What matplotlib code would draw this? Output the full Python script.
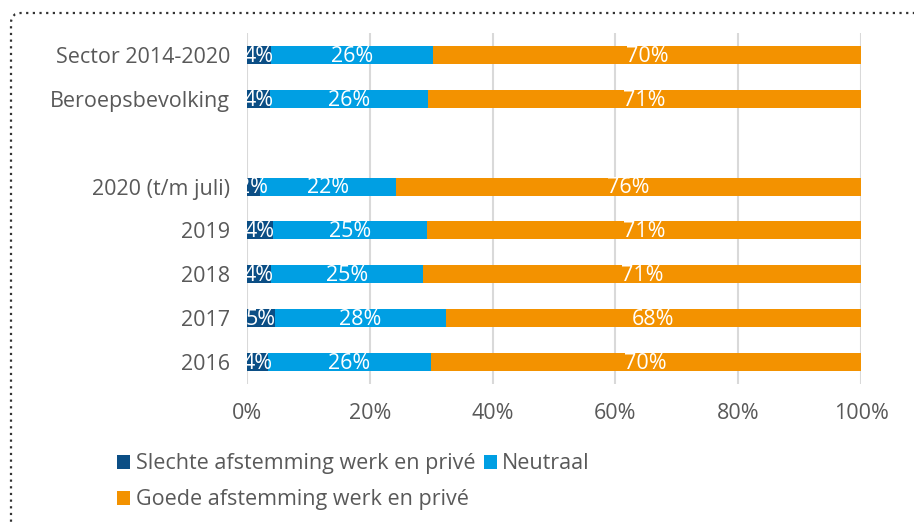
import matplotlib.pyplot as plt
from matplotlib.patches import FancyBboxPatch
from matplotlib.transforms import IdentityTransform
import numpy as np

plt.rcParams['font.family'] = ['Open Sans', 'DejaVu Sans']

categories = ['Sector 2014-2020', 'Beroepsbevolking', '', '2020 (t/m juli)',
              '2019', '2018', '2017', '2016']
slecht = [3.9, 3.8, np.nan, 2.1, 4.2, 3.9, 4.6, 3.5]
neutraal = [26.4, 25.6, np.nan, 22.2, 25.1, 24.8, 27.8, 26.4]
goed = [69.7, 70.6, np.nan, 75.7, 70.7, 71.3, 67.6, 70.1]
series_names = ['Slechte afstemming werk en privé', 'Neutraal',
                'Goede afstemming werk en privé']
colors = ['#0B4E85', '#009FE3', '#F39200']
grey = '#595959'

fig = plt.figure(figsize=(9.14, 5.24), dpi=100)
ax = fig.add_axes([247 / 914, 1 - 384 / 524, 614 / 914, 351 / 524])

y = np.arange(len(categories))
left = np.zeros(len(categories))
bars = []
for vals, name, col in zip([slecht, neutraal, goed], series_names, colors):
    v = np.array(vals, dtype=float)
    b = ax.barh(y, np.nan_to_num(v), left=left, height=0.41, color=col,
                label=name, zorder=2)
    bars.append(b)
    for yi, (l, w) in enumerate(zip(left, v)):
        if np.isnan(w):
            continue
        t = ax.text(l + w / 2, yi + 0.03, f'{round(w):.0f}%', ha='center', va='center',
                    color='white', fontsize=15.5, zorder=3)
        t.set_clip_on(True)
    left = left + np.nan_to_num(v)

ax.set_xlim(0, 100)
ax.set_ylim(len(categories) - 0.5, -0.5)
ax.set_yticks(y)
ax.set_yticklabels(categories, fontsize=15.5, color=grey)
ax.set_xticks(np.arange(0, 101, 20))
ax.set_xticklabels([f'{v}%' for v in range(0, 101, 20)], fontsize=15.5, color=grey)
ax.tick_params(axis='y', length=0, pad=12)
ax.tick_params(axis='x', length=0, pad=14)
ax.grid(axis='x', color='#D9D9D9', linewidth=1.5, zorder=0)
for s in ax.spines.values():
    s.set_visible(False)

handles = [bars[0], bars[2], bars[1]]
labels = [series_names[0], series_names[2], series_names[1]]
fig.legend(handles, labels, ncol=2, loc='upper left',
           bbox_to_anchor=(98 / 914, 1 - 434 / 524), frameon=False,
           fontsize=15.5, labelcolor=grey, handlelength=0.6, handleheight=0.6,
           handletextpad=0.25, columnspacing=0.4, labelspacing=0.7)

border = FancyBboxPatch((11, -50), 1000, 524 - 13 + 50,
                        boxstyle='round,pad=0,rounding_size=10',
                        transform=IdentityTransform(), fill=False,
                        linestyle=(0, (1, 2)), linewidth=1.6, edgecolor='#333333',
                        clip_on=False)
fig.patches.append(border)

fig.savefig('out.png', dpi=100)
